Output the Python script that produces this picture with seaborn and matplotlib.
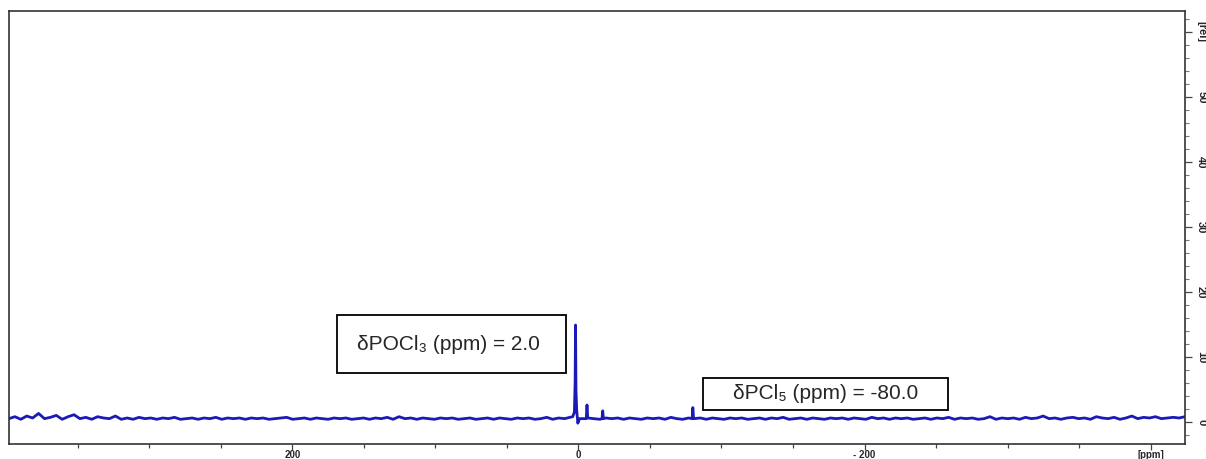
import numpy as np
import pandas as pd
import matplotlib
matplotlib.use("Agg")
import matplotlib.pyplot as plt
import matplotlib.patches as patches
import seaborn as sns

# baseline noise, left (398 ppm) to right (-424 ppm)
noise = [
    0.5, 0.8, 0.4, 0.9, 0.6, 1.3, 0.5, 0.7, 1.0, 0.4, 0.8, 1.1, 0.5, 0.7, 0.4, 0.8, 0.6, 0.5, 0.9, 0.4,
    0.6, 0.4, 0.7, 0.5, 0.6, 0.4, 0.6, 0.5, 0.7, 0.4, 0.5, 0.6, 0.4, 0.6, 0.5, 0.7, 0.4, 0.6, 0.5, 0.6,
    0.4, 0.6, 0.5, 0.6, 0.4, 0.5, 0.6, 0.7, 0.4, 0.5, 0.6, 0.4, 0.6, 0.5, 0.4, 0.6, 0.5, 0.6, 0.4, 0.5,
    0.6, 0.4, 0.6, 0.5, 0.7, 0.4, 0.8, 0.5, 0.6, 0.4, 0.6, 0.5, 0.4, 0.6, 0.5, 0.6, 0.4, 0.5, 0.6, 0.4,
    0.5, 0.6, 0.4, 0.6, 0.5, 0.4, 0.6, 0.5, 0.6, 0.4, 0.5, 0.7, 0.4, 0.6, 0.5, 0.6, 0.4, 0.5, 0.6, 0.5,
    0.4, 0.6, 0.5, 0.6, 0.4, 0.6, 0.5, 0.4, 0.6, 0.5, 0.6, 0.4, 0.7, 0.5, 0.4, 0.6, 0.5, 0.6, 0.4, 0.6,
    0.5, 0.4, 0.6, 0.5, 0.6, 0.4, 0.5, 0.6, 0.4, 0.6, 0.5, 0.7, 0.4, 0.5, 0.6, 0.4, 0.6, 0.5, 0.4, 0.6,
    0.5, 0.6, 0.4, 0.6, 0.5, 0.4, 0.7, 0.5, 0.6, 0.4, 0.6, 0.5, 0.6, 0.4, 0.5, 0.6, 0.4, 0.6, 0.5, 0.7,
    0.4, 0.6, 0.5, 0.6, 0.4, 0.5, 0.8, 0.4, 0.6, 0.5, 0.6, 0.4, 0.7, 0.5, 0.6, 0.9, 0.5, 0.6, 0.4, 0.6,
    0.7, 0.5, 0.6, 0.4, 0.8, 0.6, 0.5, 0.7, 0.4, 0.6, 0.9, 0.5, 0.7, 0.6, 0.8, 0.5, 0.6, 0.7, 0.6, 0.8,
]

# signals: POCl3 at 2.0 ppm, PCl5 at -80.0 ppm, two small extras
peak_ppm = [4.0, 2.8, 2.3, 2.0, 1.7, 1.2, 0.4, -0.8,
            -5.5, -6.0, -6.5, -16.5, -17.0, -17.5, -79.5, -80.0, -80.5]
peak_int = [0.8, 1.5, 6.0, 14.9, 5.0, 1.8, -0.2, 0.5,
            0.5, 2.6, 0.6, 0.5, 1.7, 0.5, 0.5, 2.2, 0.5]

x_ticks = [200, 0, -200, -400]
x_labels = ["200", "0", "- 200", "[ppm]"]
y_ticks = [0, 10, 20, 30, 40, 50, 60]
y_labels = ["0", "10", "20", "30", "40", "50", "[rel]"]

noise_ppm = np.linspace(398, -424, len(noise))
keep = np.abs(noise_ppm - (-2)) > 8
spec = pd.DataFrame({
    "ppm": np.concatenate([noise_ppm[keep], peak_ppm]),
    "intensity": np.concatenate([np.array(noise)[keep], peak_int]),
}).sort_values("ppm")

sns.set_style("white")
fig = plt.figure(figsize=(12.06, 4.59), dpi=100)
ax = fig.add_axes([9 / 1206, 15 / 459, 1176 / 1206, 433 / 459])

sns.lineplot(data=spec, x="ppm", y="intensity", ax=ax, color="#1a1ab8",
             linewidth=2.0, estimator=None, sort=True)

ax.set_xlim(398, -424)
ax.set_ylim(-3.4, 63.2)
ax.set_xlabel("")
ax.set_ylabel("")

for s in ax.spines.values():
    s.set_color("#333333")
    s.set_linewidth(1.2)

ax.set_xticks(x_ticks)
ax.set_xticklabels(x_labels, fontsize=7, fontweight="bold", family="Liberation Sans")
ax.set_xticks(np.arange(350, -424, -50), minor=True)
ax.yaxis.tick_right()
ax.set_yticks(y_ticks)
ax.set_yticklabels(y_labels, fontsize=8, fontweight="bold", rotation=-90,
                   va="center", family="Liberation Sans")
ax.set_yticks(np.arange(-2, 63, 2), minor=True)
ax.tick_params(axis="x", which="major", direction="out", length=4, width=0.9,
               color="#444444", pad=0.5, bottom=True)
ax.tick_params(axis="x", which="minor", direction="out", length=3, width=0.9,
               color="#444444", bottom=True)
ax.tick_params(axis="y", which="major", direction="out", length=5, width=0.9,
               color="#444444", pad=3, right=True, left=False)
ax.tick_params(axis="y", which="minor", direction="out", length=3, width=0.8,
               color="#777777", right=True, left=False)

box_font = ["Liberation Sans", "DejaVu Sans"]
ax.add_patch(patches.Rectangle((8.4, 7.5), 160.1, 9.0, fill=False,
                               edgecolor="black", linewidth=1.3, zorder=5))
ax.text(90.6, 11.9, "δPOCl₃ (ppm) = 2.0", ha="center", va="center",
        fontsize=15, family=box_font, zorder=6)
ax.add_patch(patches.Rectangle((-258, 1.85), 170.6, 4.95, fill=False,
                               edgecolor="black", linewidth=1.3, zorder=5))
ax.text(-172.7, 4.3, "δPCl₅ (ppm) = -80.0", ha="center", va="center",
        fontsize=15, family=box_font, zorder=6)

fig.savefig("out.png", dpi=100)
